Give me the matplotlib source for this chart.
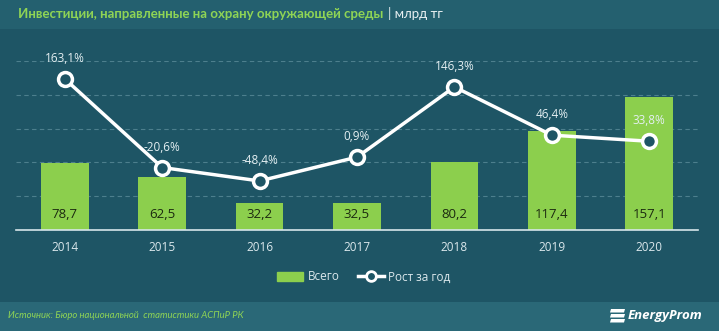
import matplotlib
matplotlib.use("Agg")
import matplotlib.pyplot as plt
import matplotlib.patches as patches

plt.rcParams['font.family'] = ['Open Sans', 'DejaVu Sans']

# данные
years = ['2014', '2015', '2016', '2017', '2018', '2019', '2020']
total = [78.7, 62.5, 32.2, 32.5, 80.2, 117.4, 157.1]
growth = [163.1, -20.6, -48.4, 0.9, 146.3, 46.4, 33.8]

bg = '#1e5565'
head_bg = '#24606f'
foot_bg = '#2a6877'
bar_col = '#8ccf4d'
green_txt = '#8fd455'

fig = plt.figure(figsize=(7.19, 3.31), dpi=100)
fig.patch.set_facecolor(bg)

# шапка и подвал
fig.add_artist(patches.Rectangle((0, 1 - 29/331), 1, 29/331, transform=fig.transFigure,
                                 facecolor=head_bg, edgecolor='none', zorder=0))
fig.add_artist(patches.Rectangle((0, 0), 1, 29/331, transform=fig.transFigure,
                                 facecolor=foot_bg, edgecolor='none', zorder=0))

ax = fig.add_axes([16/719, 1 - 230/331, 682/719, 169/331])
ax.set_facecolor('none')
x = list(range(len(years)))
ax.bar(x, total, width=0.49, color=bar_col, zorder=2)
ax.set_xlim(-0.5, 6.5)
ax.set_ylim(0, 200)
ax.set_yticks([40, 80, 120, 160, 200])
ax.yaxis.grid(True, linestyle=(0, (4, 3)), color='#4d7f8d', linewidth=0.8)
ax.set_axisbelow(True)
ax.set_xticks(x)
ax.set_xticklabels(years)
for s in ['top', 'right', 'left']:
    ax.spines[s].set_visible(False)
ax.spines['bottom'].set_color('#d6e6ea')
ax.spines['bottom'].set_linewidth(1.2)

for xi, v in zip(x, total):
    ax.text(xi, 18, f'{v:.1f}'.replace('.', ','), ha='center', va='center',
            fontsize=9.5, color='#1c2a10', zorder=3)

ax2 = ax.twinx()
ax2.set_ylim(-150, 200)
ax2.axis('off')
ax2.plot(x, growth, color='white', linewidth=2.5, marker='o', markersize=10,
         markerfacecolor=bg, markeredgecolor='white', markeredgewidth=2.5, zorder=4)
for xi, v in zip(x, growth):
    ax2.annotate(f'{v:.1f}%'.replace('.', ','), (xi, v), xytext=(0, 10),
                 textcoords='offset points', ha='center', va='bottom',
                 fontsize=8.5, color='#e4eff2')

# twinx включает левые деления снова
ax.tick_params(axis='y', left=False, right=False, labelleft=False, labelright=False)
ax.tick_params(axis='x', length=0, colors='#dbe8ec', labelsize=8.5, pad=8)

# легенда
leg_handles = [patches.Patch(color=bar_col, label='Всего'),
               plt.Line2D([], [], color='white', linewidth=2.5, marker='o', markersize=7,
                          markerfacecolor=bg, markeredgecolor='white', markeredgewidth=2,
                          label='Рост за год')]
fig.legend(handles=leg_handles, loc='center', bbox_to_anchor=(364/719, 1 - 277/331),
           ncol=2, frameon=False, fontsize=8.5, labelcolor='#dbe8ec',
           handlelength=2.2, handleheight=0.7, columnspacing=1.5, handletextpad=0.4)

renderer = fig.canvas.get_renderer()

# заголовок, подгоняем ширину под ~367 px
title = fig.text(18/719, 1 - 14/331, 'Инвестиции, направленные на охрану окружающей среды',
                 fontsize=10, fontweight='bold', color=green_txt, va='center', ha='left',
                 family=['Lato', 'DejaVu Sans'])
w = title.get_window_extent(renderer).width
title.set_fontsize(10 * 367 / w)
fig.text(388/719, 1 - 14/331, '| млрд тг', fontsize=9.5, color='#e8f0f2',
         va='center', ha='left', family=['Lato', 'DejaVu Sans'])

# источник
src = fig.text(8/719, 1 - 316/331, 'Источник: Бюро национальной  статистики АСПиР РК',
               fontsize=8, style='italic', color=green_txt, va='center', ha='left',
               family=['Lato', 'DejaVu Sans'])
w = src.get_window_extent(renderer).width
src.set_fontsize(8 * 236 / w)

# логотип
for i in range(3):
    y0 = 1 - (309 + i * 5) / 331
    fig.add_artist(patches.Polygon([(611/719, y0), (625/719, y0), (624/719, y0 - 3.5/331),
                                    (610/719, y0 - 3.5/331)], closed=True,
                                   transform=fig.transFigure, facecolor='white',
                                   edgecolor='none'))
fig.text(628/719, 1 - 316/331, 'EnergyProm', fontsize=9.5, style='italic',
         fontweight='bold', color='white', va='center', ha='left')

fig.savefig('out.png', dpi=100, facecolor=fig.get_facecolor())
